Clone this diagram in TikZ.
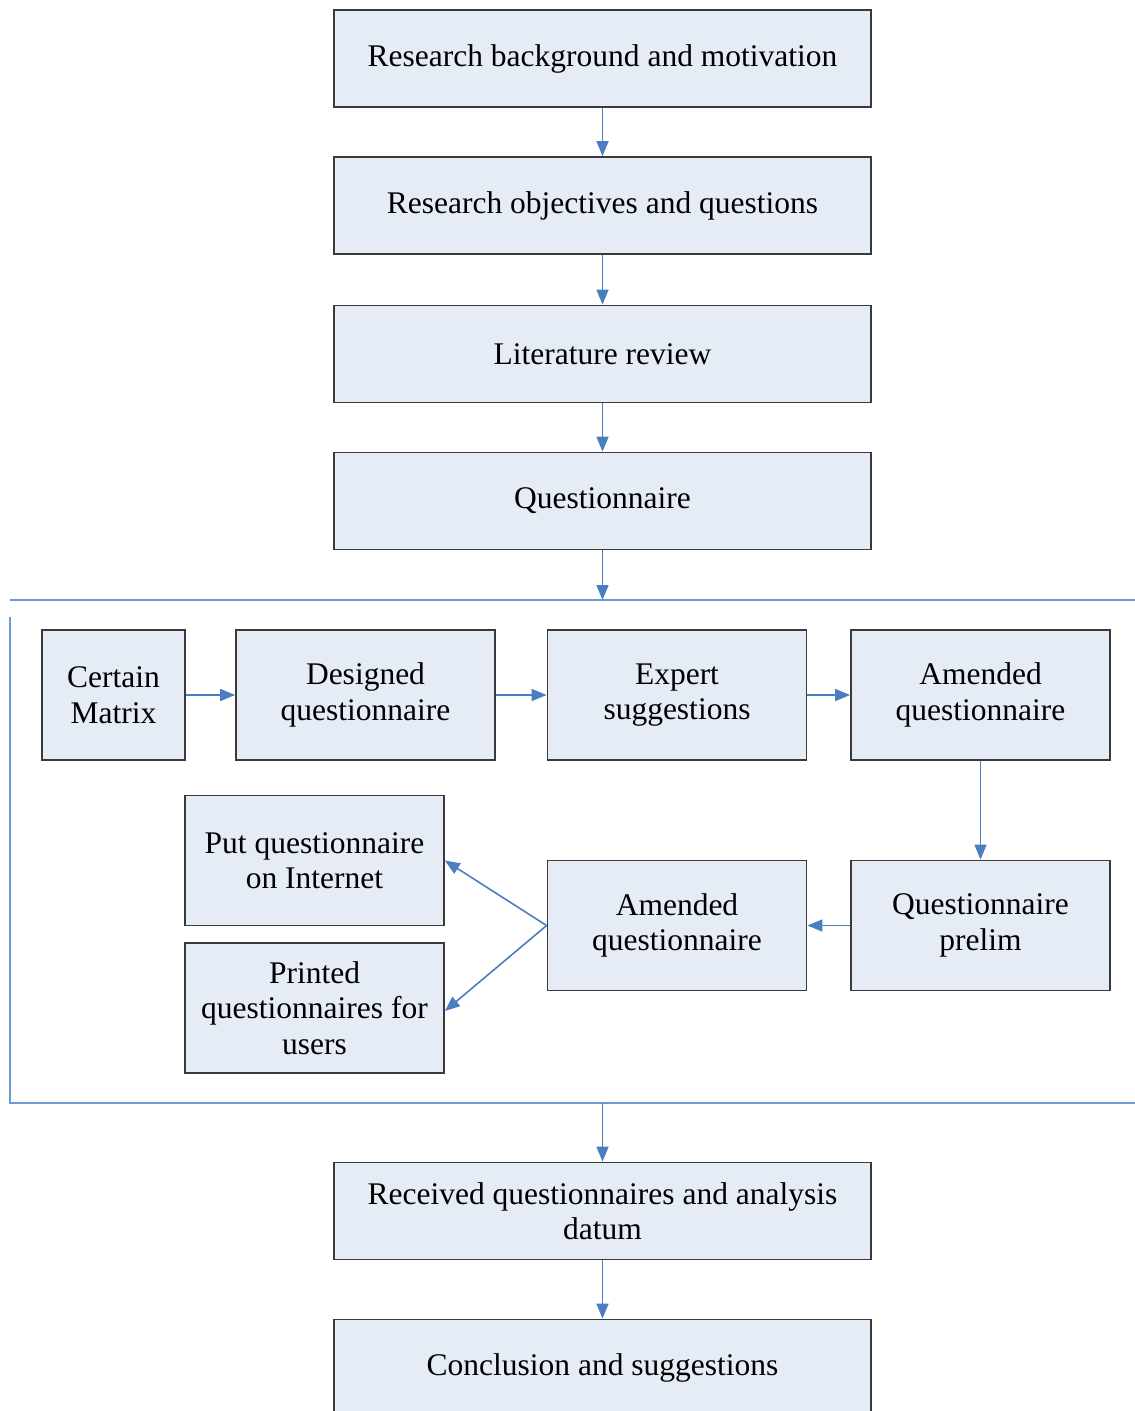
\documentclass[tikz,border=0pt]{standalone}
\usepackage{fontspec}
\setmainfont{Liberation Serif}
\usetikzlibrary{arrows.meta}
\definecolor{boxfill}{HTML}{E6ECF6}
\definecolor{boxline}{HTML}{3A3A3A}
\definecolor{flow}{HTML}{4A7EBF}
\definecolor{frameline}{HTML}{6F9AD0}
\begin{document}
\begin{tikzpicture}[x=1pt,y=-1pt,
  box/.style={draw=boxline, line width=1.8pt, fill=boxfill, align=center,
    inner sep=0pt, font=\fontsize{31.5}{35.5}\selectfont},
  wide/.style={box, minimum width=537pt, minimum height=97pt},
  cell/.style={box, minimum width=259pt, minimum height=130pt},
  flowarrow/.style={draw=flow, line width=1.6pt, -{Triangle[length=15pt,width=12pt]}},
  frame/.style={draw=frameline, line width=1.8pt},
]
\useasboundingbox (0,0) rectangle (1135,1411);

% main column
\node[wide] (b1) at (602.5,58.5) {Research background and motivation};
\node[wide] (b2) at (602.5,205.5) {Research objectives and questions};
\node[wide] (b3) at (602.5,354) {Literature review};
\node[wide] (b4) at (602.5,501) {Questionnaire};
\node[wide] (b5) at (602.5,1211) {Received questionnaires and analysis\\datum};
\node[wide] (b6) at (602.5,1368) {Conclusion and suggestions};

% questionnaire design stage
\node[box, minimum width=143pt, minimum height=130pt] (cm) at (113.5,695) {Certain\\Matrix};
\node[cell] (dq) at (365.5,695) {Designed\\questionnaire};
\node[cell] (ex) at (677,695) {Expert\\suggestions};
\node[cell] (am1) at (980.5,695) {Amended\\questionnaire};
\node[cell] (pre) at (980.5,925.5) {Questionnaire\\prelim};
\node[cell] (am2) at (677,925.5) {Amended\\questionnaire};
\node[cell] (put) at (314.5,860.5) {Put questionnaire\\on Internet};
\node[cell] (prn) at (314.5,1008) {Printed\\questionnaires for\\users};

% stage frame
\coordinate (ftop) at (602.5,600);
\coordinate (fbot) at (602.5,1103);
\draw[frame] (10,600) -- (1135,600);
\draw[frame] (10,617) -- (10,1103) -- (1135,1103);

% connectors
\draw[flowarrow] (b1) -- (b2);
\draw[flowarrow] (b2) -- (b3);
\draw[flowarrow] (b3) -- (b4);
\draw[flowarrow] (b4) -- (ftop);
\draw[flowarrow] (fbot) -- (b5);
\draw[flowarrow] (b5) -- (b6);
\draw[flowarrow] (cm) -- (dq);
\draw[flowarrow] (dq) -- (ex);
\draw[flowarrow] (ex) -- (am1);
\draw[flowarrow] (am1) -- (pre);
\draw[flowarrow] (pre) -- (am2);
\draw[flowarrow] (am2.west) -- (put.east);
\draw[flowarrow] (am2.west) -- ([yshift=-3pt]prn.east);
\end{tikzpicture}
\end{document}
